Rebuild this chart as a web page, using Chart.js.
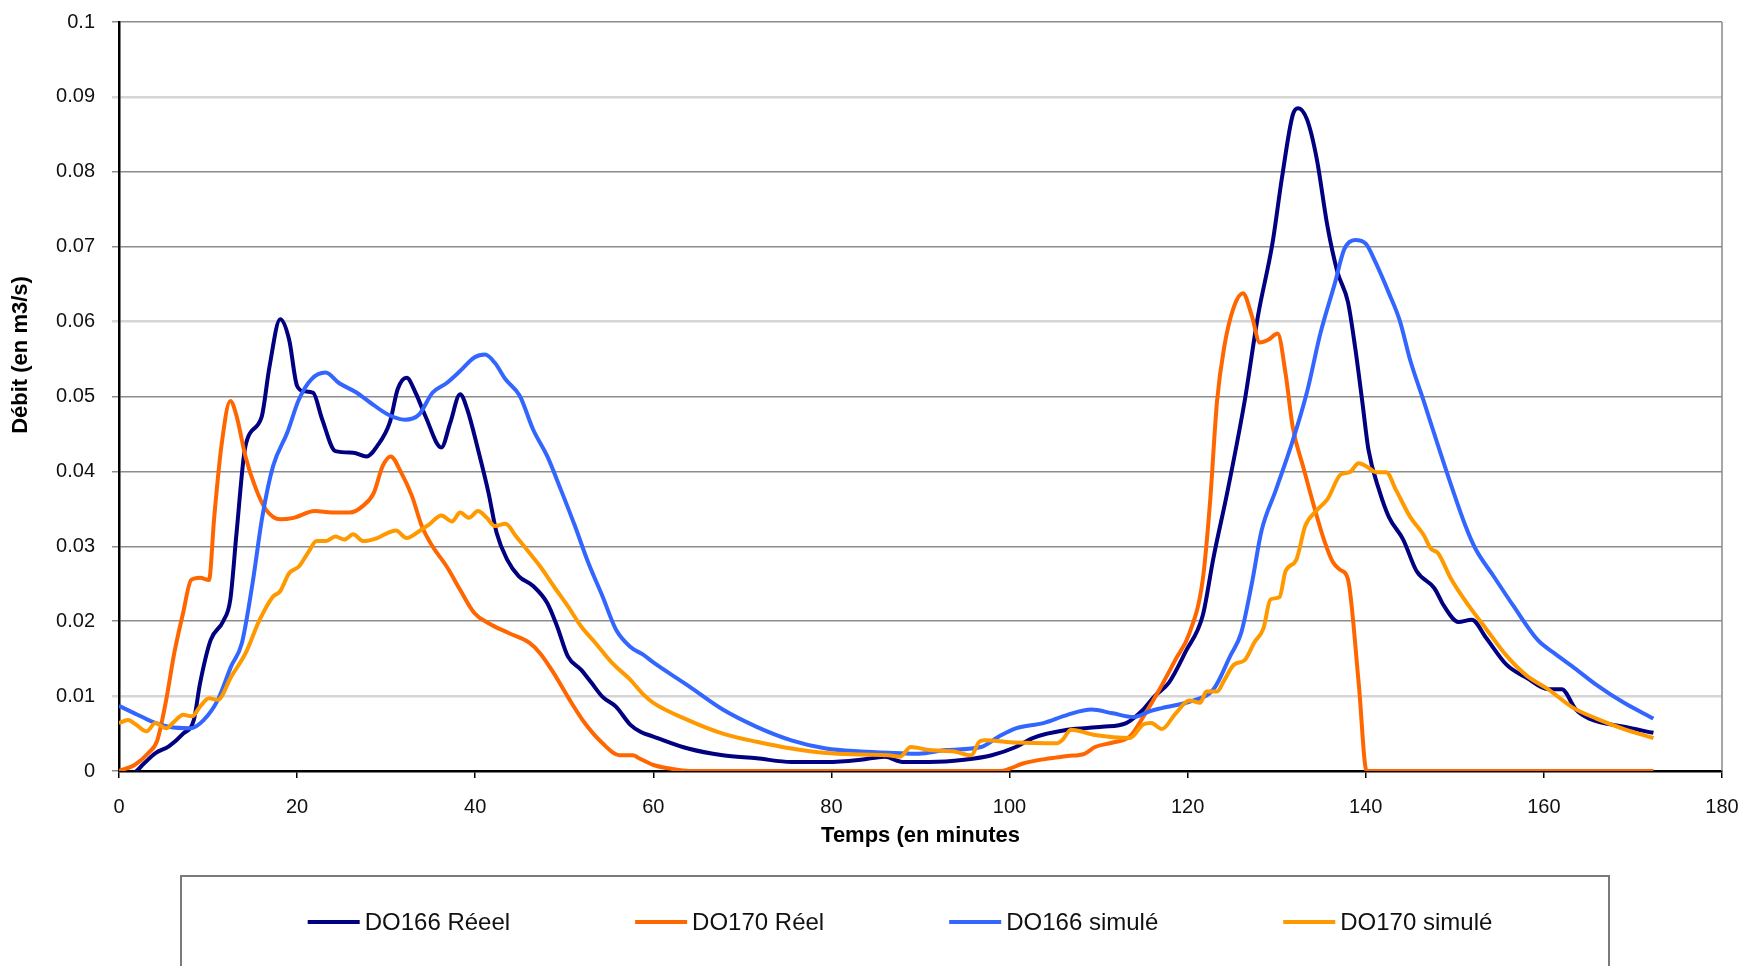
<!DOCTYPE html>
<html>
<head>
<meta charset="utf-8">
<title>Débit DO166 / DO170</title>
<script src="https://cdn.jsdelivr.net/npm/chart.js@4.4.1/dist/chart.umd.min.js"></script>
<style>
  html, body { margin: 0; padding: 0; background: #fff; }
  canvas { display: block; }
</style>
</head>
<body>
<canvas id="debit" width="1744" height="966"></canvas>
<script>
var seriesLabels = ['DO166 Réeel', 'DO170 Réel', 'DO166 simulé', 'DO170 simulé']
var seriesColors = ['#000080', '#ff6600', '#3366ff', '#ff9900']
var xTitle = 'Temps (en minutes'
var yTitle = 'Débit (en m3/s)'

// DO166 Réeel
var do166ReelT = [0, 1.5, 2.8, 4.1, 5.6, 7.2, 8.4, 9.1, 10.3, 11.7, 12.5, 13.2, 14.2, 16, 16.9, 18.1, 19.1, 20, 20.8, 21.8, 22.8, 24.3, 26.3, 27.8, 29, 30.4, 31.3, 32.3, 33.3, 34.4, 36.2, 37.2, 38.3, 39.1, 40.3, 41.5, 42.4, 43.6, 44.9, 46.5, 48.1, 49.2, 50.4, 51.9, 53.1, 54.3, 55.8, 57.4, 58.6, 60, 63.9, 67.8, 71.6, 75.5, 79.5, 83.3, 86, 88, 91, 94.9, 98, 100.7, 102.6, 106.5, 110.4, 113.1, 115, 116.3, 117.9, 119.8, 121.7, 122.9, 124.5, 126.4, 127.9, 129.5, 130.6, 131.8, 132.4, 133.4, 134.5, 135.7, 136.8, 138, 138.8, 139.6, 140.3, 141.5, 142.6, 144.2, 145.7, 147.7, 148.8, 150.4, 151.9, 153.5, 155.8, 158.1, 160.5, 162, 163.6, 165.1, 169, 172.3]
var do166ReelV = [0, -0.0003, 0.001, 0.0024, 0.0033, 0.005, 0.0068, 0.0117, 0.0175, 0.02, 0.0229, 0.0318, 0.0434, 0.0472, 0.054, 0.0603, 0.0576, 0.0514, 0.0507, 0.0505, 0.047, 0.0427, 0.0425, 0.042, 0.0434, 0.0465, 0.051, 0.0525, 0.0505, 0.0474, 0.0432, 0.0465, 0.0503, 0.0483, 0.043, 0.0371, 0.0318, 0.0282, 0.026, 0.0247, 0.0224, 0.0193, 0.0153, 0.0135, 0.0117, 0.0099, 0.0086, 0.0062, 0.0052, 0.0046, 0.003, 0.0021, 0.0017, 0.0012, 0.0012, 0.0015, 0.0019, 0.0012, 0.0012, 0.0015, 0.0021, 0.0032, 0.0044, 0.0055, 0.0059, 0.0064, 0.0082, 0.01, 0.0118, 0.016, 0.0208, 0.0285, 0.0375, 0.0494, 0.0608, 0.0703, 0.0793, 0.0876, 0.0885, 0.087, 0.0817, 0.0727, 0.0667, 0.0626, 0.0566, 0.0494, 0.0429, 0.0375, 0.0339, 0.0309, 0.0267, 0.0244, 0.022, 0.0199, 0.0202, 0.0178, 0.0142, 0.0124, 0.0109, 0.0109, 0.0082, 0.007, 0.0059, 0.0051]

// DO170 Réel
var do170ReelT = [0, 1.75, 3.3, 4.3, 5.3, 6.2, 7.2, 8.1, 9.1, 10.1, 10.7, 11.5, 12.5, 13.2, 14.2, 15.4, 16.5, 18.1, 19.6, 22, 23.9, 25.9, 27.4, 28.6, 29.6, 30.5, 31.7, 32.9, 34, 35.2, 36.8, 38.3, 39.9, 41.4, 43.8, 46.1, 47.3, 48.8, 50.4, 52.3, 54.3, 56.2, 57.7, 58.4, 60, 62, 64, 99, 100, 101.5, 104.6, 106.5, 108.4, 109.6, 111.6, 113.5, 115, 116.7, 118.6, 120.2, 121.7, 122.5, 123.3, 124.1, 125.2, 126.2, 127.2, 128.1, 129.1, 130.1, 131, 131.8, 133, 134.1, 135.3, 136.3, 137.2, 138, 139.2, 140.1, 141, 172.3]
var do170ReelV = [0, 0.0008, 0.0024, 0.0041, 0.0095, 0.0157, 0.0211, 0.0255, 0.0258, 0.0255, 0.034, 0.0434, 0.0494, 0.0474, 0.042, 0.0376, 0.0349, 0.0336, 0.0338, 0.0347, 0.0345, 0.0345, 0.0354, 0.0371, 0.0407, 0.042, 0.0398, 0.0367, 0.0327, 0.03, 0.0273, 0.0242, 0.0211, 0.0198, 0.0184, 0.0171, 0.0157, 0.0131, 0.0099, 0.0064, 0.0037, 0.0021, 0.0021, 0.0017, 0.0008, 0.0003, 0, 0, 0.0003, 0.001, 0.0017, 0.002, 0.0023, 0.0032, 0.0038, 0.0046, 0.0072, 0.0106, 0.0148, 0.0184, 0.0256, 0.0357, 0.0494, 0.0566, 0.062, 0.0638, 0.0608, 0.0572, 0.0576, 0.0584, 0.053, 0.0459, 0.0405, 0.0357, 0.0309, 0.0279, 0.0268, 0.0256, 0.0118, 0, 0, 0]

// DO166 simulé
var do166SimT = [0, 1.75, 3.7, 5.6, 8, 9.5, 11.1, 12.6, 13.8, 15, 16.1, 17.3, 18.9, 20.2, 21.6, 23.2, 24.7, 26.7, 28.2, 30.2, 32.1, 33.7, 35.2, 36.8, 38.3, 39.9, 41.1, 42.2, 43.4, 45, 46.5, 48.1, 49.6, 51.2, 52.7, 54.3, 55.8, 57.4, 58.9, 60, 63.9, 67.8, 71.6, 75.5, 79.4, 83.3, 87.1, 89.8, 92.9, 96.8, 98.8, 100.7, 103.8, 106.5, 109.2, 111.6, 113.9, 115.8, 117.1, 120.6, 122.9, 124.8, 126, 127.2, 128.3, 129.9, 131.8, 133.4, 134.9, 136.5, 137.6, 138.8, 140, 141.1, 142.6, 143.8, 145, 146.5, 148.1, 149.6, 151.2, 152.3, 154.3, 156.6, 159.3, 161.2, 163.6, 165.9, 169, 172.3]
var do166SimV = [0.0087, 0.0077, 0.0066, 0.0059, 0.0057, 0.0068, 0.0095, 0.014, 0.0171, 0.0251, 0.034, 0.0407, 0.0452, 0.0496, 0.0523, 0.0532, 0.0518, 0.0505, 0.0492, 0.0476, 0.0469, 0.0476, 0.0505, 0.0518, 0.0534, 0.0552, 0.0556, 0.0545, 0.0523, 0.0501, 0.0456, 0.042, 0.0376, 0.0327, 0.0278, 0.0233, 0.0189, 0.0166, 0.0155, 0.0145, 0.0114, 0.0082, 0.0059, 0.0041, 0.003, 0.0026, 0.0024, 0.0023, 0.0028, 0.0032, 0.0046, 0.0057, 0.0064, 0.0075, 0.0082, 0.0077, 0.0072, 0.008, 0.0084, 0.0094, 0.0109, 0.0154, 0.0184, 0.025, 0.0321, 0.0375, 0.0441, 0.0506, 0.0584, 0.065, 0.0697, 0.0709, 0.0704, 0.0679, 0.0638, 0.0602, 0.0548, 0.0494, 0.0435, 0.0381, 0.0327, 0.0297, 0.0261, 0.022, 0.0175, 0.0157, 0.0136, 0.0115, 0.0091, 0.007]

// DO170 simulé
var do170SimT = [0, 1, 1.9, 3.1, 4.1, 5.3, 6.2, 7.2, 8.2, 9.1, 10.1, 11.1, 12.6, 14.2, 15.8, 17.3, 18.1, 19.1, 20.2, 21.2, 22.2, 23.2, 24.3, 25.3, 26.3, 27.4, 29, 30.2, 31.1, 32.3, 33.7, 34.8, 36.2, 37.4, 38.3, 39.3, 40.3, 41.3, 42.2, 43.4, 44.6, 46.1, 47.3, 48.8, 50.4, 51.9, 53.5, 55.4, 57.4, 58.9, 60, 63.9, 67.8, 71.6, 75.5, 79.4, 83.3, 86.4, 87.7, 88.9, 91, 93.8, 95.7, 96.6, 97.2, 100.7, 105.3, 105.9, 106.9, 109.6, 113.5, 115, 115.9, 117.1, 118.6, 120.2, 121.4, 122.1, 123.3, 124.1, 125.2, 126.4, 127.5, 128.5, 129.3, 130.3, 131, 132.2, 133.2, 134.5, 135.7, 137.2, 138.2, 139.2, 140.3, 141.1, 142.3, 143.4, 145, 146.5, 147.3, 148.1, 149.6, 151.6, 153.5, 155.8, 158.1, 160.5, 163.2, 165.9, 169, 172.3]
var do170SimV = [0.0064, 0.0068, 0.0062, 0.0053, 0.0064, 0.0057, 0.0066, 0.0075, 0.0073, 0.0086, 0.0097, 0.0095, 0.0126, 0.0157, 0.0202, 0.0233, 0.024, 0.0264, 0.0273, 0.0291, 0.0307, 0.0307, 0.0313, 0.0309, 0.0316, 0.0307, 0.0311, 0.0318, 0.0321, 0.0311, 0.032, 0.0329, 0.0341, 0.0333, 0.0345, 0.0338, 0.0347, 0.0338, 0.0327, 0.033, 0.0313, 0.0291, 0.0273, 0.0247, 0.022, 0.0193, 0.0171, 0.0144, 0.0122, 0.0102, 0.0091, 0.0068, 0.005, 0.0039, 0.003, 0.0024, 0.0022, 0.0021, 0.0019, 0.0032, 0.0028, 0.0026, 0.0021, 0.0039, 0.0041, 0.0038, 0.0037, 0.0041, 0.0055, 0.0048, 0.0044, 0.0062, 0.0064, 0.0056, 0.0076, 0.0094, 0.0091, 0.0106, 0.0106, 0.0121, 0.0142, 0.0148, 0.0172, 0.019, 0.0229, 0.0232, 0.0267, 0.0282, 0.0327, 0.0348, 0.0363, 0.0396, 0.0399, 0.0411, 0.0405, 0.0399, 0.0399, 0.0375, 0.0339, 0.0315, 0.0297, 0.0291, 0.0256, 0.022, 0.019, 0.0154, 0.0127, 0.0109, 0.0085, 0.007, 0.0056, 0.0044]

var xTicks = { min: 0, max: 180, step: 20 }
var yTicks = { min: 0, max: 0.1, step: 0.01 }

function toPoints(times, values) {
    return times.map(function (t, i) {
        return { x: t, y: values[i] }
    })
}

var allT = [do166ReelT, do170ReelT, do166SimT, do170SimT]
var allV = [do166ReelV, do170ReelV, do166SimV, do170SimV]

var datasets = seriesLabels.map(function (label, i) {
    return {
        label: label,
        data: toPoints(allT[i], allV[i]),
        borderColor: seriesColors[i],
        backgroundColor: seriesColors[i],
        borderWidth: 4,
        pointRadius: 0,
        fill: false,
        cubicInterpolationMode: 'monotone',
        order: 4 - i
    }
})

// right frame, y title and boxed legend like the excel sheet
var excelFrame = {
    id: 'excelFrame',
    afterDraw: function (chart) {
        var ctx = chart.ctx
        var area = chart.chartArea
        ctx.save()
        ctx.strokeStyle = '#8a8a8a'
        ctx.lineWidth = 1.5
        ctx.beginPath()
        ctx.moveTo(area.right, area.top)
        ctx.lineTo(area.right, area.bottom)
        ctx.stroke()

        ctx.fillStyle = '#000'
        ctx.font = 'bold 22px "Liberation Sans", Arial, sans-serif'
        ctx.textAlign = 'center'
        ctx.textBaseline = 'middle'
        ctx.translate(21, 355)
        ctx.rotate(-Math.PI / 2)
        ctx.fillText(yTitle, 0, 0)
        ctx.restore()

        ctx.save()
        ctx.strokeStyle = '#7a7a7a'
        ctx.lineWidth = 2
        ctx.strokeRect(181, 876, 1428, 140)
        ctx.font = '24px "Liberation Sans", Arial, sans-serif'
        ctx.textBaseline = 'middle'
        ctx.textAlign = 'left'
        var lineLen = 52, gapText = 5, gapItem = 125
        var widths = chart.data.datasets.map(function (ds) {
            return lineLen + gapText + ctx.measureText(ds.label).width
        })
        var total = widths.reduce(function (a, b) { return a + b }, 0) + gapItem * (widths.length - 1)
        var x = 900 - total / 2
        var y = 922
        chart.data.datasets.forEach(function (ds, i) {
            ctx.strokeStyle = ds.borderColor
            ctx.lineWidth = 4
            ctx.beginPath()
            ctx.moveTo(x, y)
            ctx.lineTo(x + lineLen, y)
            ctx.stroke()
            ctx.fillStyle = '#111'
            ctx.fillText(ds.label, x + lineLen + gapText, y + 1)
            x += widths[i] + gapItem
        })
        ctx.restore()
    }
}

var ctx = document.getElementById('debit').getContext('2d')
var myChart = new Chart(ctx, {
    type: 'line',
    data: { datasets: datasets },
    options: {
        responsive: false,
        animation: false,
        layout: { padding: { left: 0, right: 22, top: 22, bottom: 0 } },
        scales: {
            x: {
                type: 'linear',
                min: xTicks.min,
                max: xTicks.max,
                afterFit: function (scale) {
                    scale.height = 195
                    scale.paddingLeft = 0
                    scale.paddingRight = 0
                },
                ticks: {
                    stepSize: xTicks.step,
                    padding: 17,
                    color: '#111',
                    font: { family: '"Liberation Sans", Arial, sans-serif', size: 20 }
                },
                grid: {
                    drawOnChartArea: false,
                    drawTicks: true,
                    tickLength: 7,
                    color: '#000',
                    lineWidth: 1.5
                },
                border: { color: '#000', width: 2.5 },
                title: {
                    display: true,
                    text: xTitle,
                    color: '#000',
                    padding: { top: 0, bottom: 117 },
                    font: { family: '"Liberation Sans", Arial, sans-serif', size: 22, weight: 'bold' }
                }
            },
            y: {
                min: yTicks.min,
                max: yTicks.max,
                afterFit: function (scale) {
                    scale.width = 119
                    scale.paddingTop = 0
                    scale.paddingBottom = 0
                },
                ticks: {
                    stepSize: yTicks.step,
                    padding: 17,
                    color: '#111',
                    font: { family: '"Liberation Sans", Arial, sans-serif', size: 20 },
                    callback: function (v) { return String(Math.round(v * 100) / 100) }
                },
                grid: {
                    tickLength: 7,
                    color: function (c) {
                        var k = Math.round(c.tick.value * 100)
                        return (k == 1 || k == 6 || k == 9) ? '#d6d6d6' : '#8c8c8c'
                    },
                    lineWidth: function (c) {
                        var k = Math.round(c.tick.value * 100)
                        return (k == 1 || k == 6 || k == 9) ? 2.5 : 1.5
                    }
                },
                border: { color: '#000', width: 2.5 }
            }
        },
        plugins: {
            legend: { display: false },
            tooltip: { enabled: false }
        }
    },
    plugins: [excelFrame]
})
</script>
</body>
</html>
